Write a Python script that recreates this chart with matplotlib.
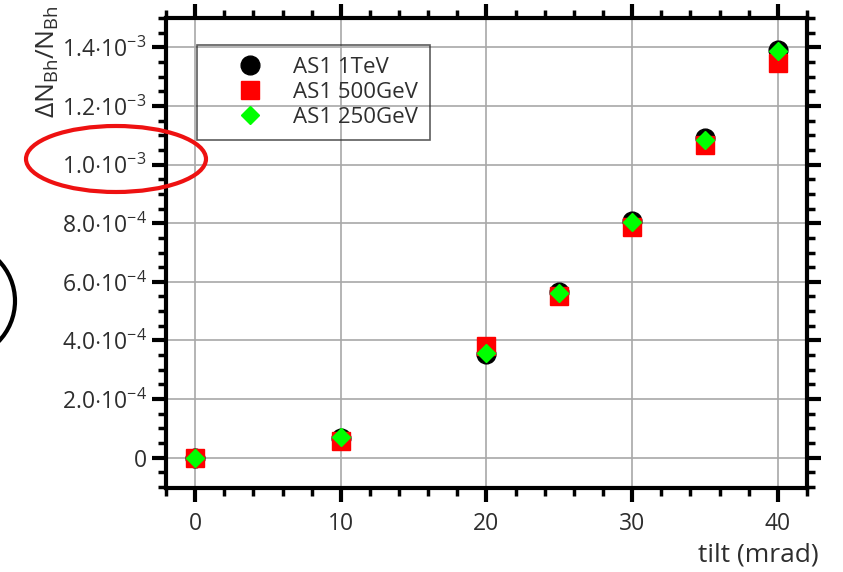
import matplotlib
matplotlib.use('Agg')
import matplotlib.pyplot as plt
from matplotlib.ticker import MultipleLocator, FuncFormatter
from matplotlib.patches import Ellipse

# tilt angle (mrad) and relative change of the Bhabha count for each beam energy
tilt = [0, 10, 20, 25, 30, 35, 40]
as1_1tev = [0.0, 6.8e-5, 3.55e-4, 5.67e-4, 8.09e-4, 1.089e-3, 1.392e-3]
as1_500gev = [0.0, 5.8e-5, 3.82e-4, 5.53e-4, 7.88e-4, 1.068e-3, 1.345e-3]
as1_250gev = [0.0, 7.2e-5, 3.58e-4, 5.63e-4, 8.05e-4, 1.085e-3, 1.386e-3]
series_labels = ['AS1 1TeV', 'AS1 500GeV', 'AS1 250GeV']

txt = '#2e2e2e'
plt.rcParams['font.family'] = ['Open Sans', 'DejaVu Sans']
plt.rcParams['mathtext.fontset'] = 'custom'
plt.rcParams['mathtext.rm'] = 'Open Sans'
plt.rcParams['mathtext.it'] = 'Open Sans'
plt.rcParams['mathtext.bf'] = 'Open Sans'


def sci_label(v, pos):
    if abs(v) < 1e-12:
        return '0'
    mant, e = ('%.1e' % v).split('e')
    return r'$%s{\cdot}10^{%d}$' % (mant, int(e))


fig = plt.figure(figsize=(8.43, 5.72), dpi=100)
ax = fig.add_axes([0.1969, 0.146, 0.9573 - 0.1969, 0.9685 - 0.146])

ax.plot(tilt, as1_1tev, 'o', color='black', ms=13.5, ls='none', label=series_labels[0], zorder=3)
ax.plot(tilt, as1_500gev, 's', color='#ff0000', ms=13.5, ls='none', label=series_labels[1], zorder=4)
ax.plot(tilt, as1_250gev, 'D', color='#00ff00', ms=9.5, ls='none', label=series_labels[2], zorder=5)

ax.set_xlim(-2, 42)
ax.set_ylim(-1.05e-4, 1.5e-3)
ax.xaxis.set_major_locator(MultipleLocator(10))
ax.xaxis.set_minor_locator(MultipleLocator(2))
ax.yaxis.set_major_locator(MultipleLocator(2e-4))
ax.yaxis.set_minor_locator(MultipleLocator(5e-5))
ax.yaxis.set_major_formatter(FuncFormatter(sci_label))

ax.grid(True, which='major', color='#a8a8a8', lw=1.2, zorder=0)
ax.set_axisbelow(True)
for s in ax.spines.values():
    s.set_linewidth(3)
ax.tick_params(which='both', direction='out', top=True, right=True, colors='black',
               labelcolor=txt, labelsize=16.5)
ax.tick_params(which='major', length=10, width=3)
ax.tick_params(which='minor', length=5.5, width=2.5)
ax.tick_params(axis='y', pad=4)
ax.tick_params(axis='x', pad=7)

fig.text(0.057, 0.99, r'$\Delta N_{\mathrm{Bh}}/N_{\mathrm{Bh}}$', rotation=90,
         ha='center', va='top', fontsize=19, color=txt)
fig.text(0.971, 0.008, 'tilt (mrad)', ha='right', va='bottom', fontsize=19, color=txt)

leg = ax.legend(loc='upper left', bbox_to_anchor=(0.0484, 0.9426), borderaxespad=0,
                fontsize=16, frameon=True, fancybox=False, facecolor='none',
                edgecolor='#333333', handlelength=3.74, handletextpad=0.07,
                borderpad=0.52, labelspacing=0.19, numpoints=1)
leg.get_frame().set_linewidth(1.2)
for t in leg.get_texts():
    t.set_color(txt)

# hand-drawn highlight marks
fig.add_artist(Ellipse((1.16, 4.13), 1.80, 0.66, transform=fig.dpi_scale_trans,
                       fill=False, ec='#ee1111', lw=3))
fig.add_artist(Ellipse((-0.43, 2.71), 1.16, 1.16, transform=fig.dpi_scale_trans,
                       fill=False, ec='black', lw=3))

fig.savefig('out.png', dpi=100)
